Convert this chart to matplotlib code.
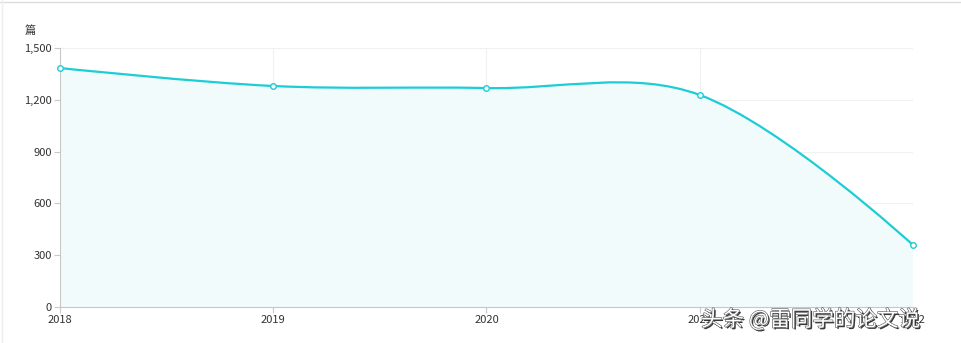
import numpy as np
import matplotlib
matplotlib.use("Agg")
import matplotlib.pyplot as plt
import matplotlib.patheffects as pe
from matplotlib.path import Path
from matplotlib.patches import PathPatch
from matplotlib.lines import Line2D

plt.rcParams['font.family'] = ['Noto Sans CJK SC', 'DejaVu Sans']

# data
years = ['2018', '2019', '2020', '2021', '2022']
papers = [1384, 1280, 1268, 1228, 359]
y_ticks = [0, 300, 600, 900, 1200, 1500]
unit_label = '篇'
watermark = '头条 @雷同学的论文说'

line_color = '#1dcdd6'
fill_color = '#f2fbfc'

W, H = 961, 343
fig = plt.figure(figsize=(W / 100, H / 100), dpi=100)
ax = fig.add_axes([60 / W, 1 - 307 / H, (913 - 60) / W, (307 - 48) / H])

x = np.arange(len(years))
ax.set_xlim(0, len(years) - 1)
ax.set_ylim(0, 1500)


def smooth_path(xs, ys, sx, sy, smooth=0.35):
    # echarts-like smoothing: endpoints use the point itself as control point
    px = np.asarray(xs, float) * sx
    py = np.asarray(ys, float) * sy
    n = len(px)
    verts = [(xs[0], ys[0])]
    codes = [Path.MOVETO]
    cp0 = (px[0], py[0])
    for i in range(1, n):
        if i == n - 1:
            cp1 = (px[i], py[i])
            nxt_cp0 = None
        else:
            vx, vy = px[i + 1] - px[i - 1], py[i + 1] - py[i - 1]
            d0 = np.hypot(px[i] - px[i - 1], py[i] - py[i - 1])
            d1 = np.hypot(px[i + 1] - px[i], py[i + 1] - py[i])
            r = d1 / (d0 + d1)
            cp1 = (px[i] - vx * smooth * (1 - r), py[i] - vy * smooth * (1 - r))
            nxt_cp0 = (px[i] + vx * smooth * r, py[i] + vy * smooth * r)
        verts += [(cp0[0] / sx, cp0[1] / sy), (cp1[0] / sx, cp1[1] / sy), (xs[i], ys[i])]
        codes += [Path.CURVE4] * 3
        cp0 = nxt_cp0
    return verts, codes


sx = (913 - 60) / (len(years) - 1)
sy = (307 - 48) / 1500
verts, codes = smooth_path(list(x), papers, sx, sy)

fill_verts = verts + [(x[-1], 0), (x[0], 0), (x[0], papers[0])]
fill_codes = codes + [Path.LINETO, Path.LINETO, Path.CLOSEPOLY]
ax.add_patch(PathPatch(Path(fill_verts, fill_codes), facecolor=fill_color, edgecolor='none', zorder=1))
ax.add_patch(PathPatch(Path(verts, codes), facecolor='none', edgecolor=line_color, lw=1.6, zorder=3))
ax.plot(x, papers, 'o', ms=4, mfc='white', mec=line_color, mew=1, zorder=4, clip_on=False)

ax.set_xticks(x)
ax.set_xticklabels(years)
ax.set_yticks(y_ticks)
ax.set_yticklabels([f'{v:,}' for v in y_ticks])
ax.grid(True, color='#eef0f2', lw=0.8, zorder=0)
ax.set_axisbelow(True)
for side in ['top', 'right']:
    ax.spines[side].set_visible(False)
for side in ['left', 'bottom']:
    ax.spines[side].set_color('#c8c8c8')
ax.tick_params(colors='#c8c8c8', labelcolor='#333333', labelsize=8, length=4, pad=2)

fig.text(30 / W, 1 - 31 / H, unit_label, fontsize=8, color='#333333', ha='center', va='center')
fig.text(701 / W, 1 - 320 / H, watermark, fontsize=15.5, color='white', ha='left', va='center',
         path_effects=[pe.withSimplePatchShadow(offset=(1.2, -1.2), shadow_rgbFace='#222222', alpha=0.9),
                       pe.withStroke(linewidth=0.8, foreground='#555555')], zorder=10)

# light frame on the top and left edges
fig.add_artist(Line2D([0, 1], [1 - 1.5 / H, 1 - 1.5 / H], transform=fig.transFigure, color='#dddddd', lw=1))
fig.add_artist(Line2D([2 / W, 2 / W], [0, 1], transform=fig.transFigure, color='#eeeeee', lw=1))

fig.savefig('out.png', dpi=100)
